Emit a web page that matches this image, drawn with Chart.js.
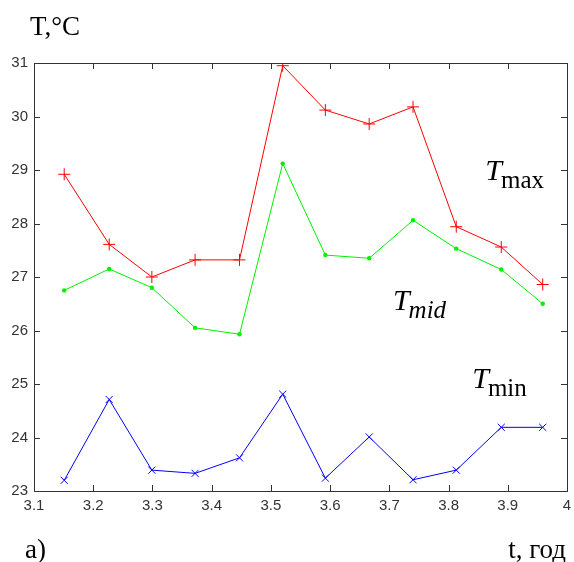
<!DOCTYPE html>
<html>
<head>
<meta charset="utf-8">
<script src="https://cdn.jsdelivr.net/npm/chart.js@4/dist/chart.umd.min.js"></script>
<style>
  html, body { margin: 0; padding: 0; background: #fff; }
  #wrap { width: 574px; height: 562px; position: relative; }
</style>
</head>
<body>
<div id="wrap"><canvas id="chart" width="574" height="562"></canvas></div>
<script>
// time points, years
const tYears = [3.151, 3.227, 3.299, 3.372, 3.447, 3.520, 3.592, 3.666, 3.740, 3.813, 3.889, 3.959];
// temperatures, °C
const tMax = [28.92, 27.61, 27.00, 27.32, 27.32, 30.95, 30.12, 29.86, 30.18, 27.94, 27.56, 26.86];
const tMid = [26.75, 27.15, 26.80, 26.05, 25.93, 29.12, 27.41, 27.35, 28.06, 27.53, 27.14, 26.50];
const tMin = [23.20, 24.71, 23.39, 23.33, 23.62, 24.81, 23.24, 24.01, 23.21, 23.39, 24.19, 24.19];

// curve labels: [main letter, subscript, italic subscript?, x, y baseline]
const curveLabels = [
  ['T', 'max', false, 3.862, 28.81],
  ['T', 'mid', true, 3.706, 26.38],
  ['T', 'min', false, 3.840, 24.92]
];

const pts = (ys) => tYears.map((x, i) => ({ x: x, y: ys[i] }));

const serif = '"Liberation Serif", "Times New Roman", serif';
const sans = '"Liberation Sans", Arial, sans-serif';

// frame, inward ticks on all four sides and the text labels
const framePlugin = {
  id: 'frame',
  afterDraw(chart) {
    const ctx = chart.ctx;
    const a = chart.chartArea;
    const xs = chart.scales.x, ys = chart.scales.y;
    const tl = 6;
    ctx.save();
    ctx.strokeStyle = '#333';
    ctx.lineWidth = 1;
    ctx.strokeRect(Math.round(a.left) + 0.5, Math.round(a.top) + 0.5,
      Math.round(a.right - a.left), Math.round(a.bottom - a.top));
    ctx.beginPath();
    xs.ticks.forEach(t => {
      const px = Math.round(xs.getPixelForValue(t.value)) + 0.5;
      ctx.moveTo(px, a.bottom); ctx.lineTo(px, a.bottom - tl);
      ctx.moveTo(px, a.top); ctx.lineTo(px, a.top + tl);
    });
    ys.ticks.forEach(t => {
      const py = Math.round(ys.getPixelForValue(t.value)) + 0.5;
      ctx.moveTo(a.left, py); ctx.lineTo(a.left + tl, py);
      ctx.moveTo(a.right, py); ctx.lineTo(a.right - tl, py);
    });
    ctx.stroke();

    ctx.fillStyle = '#000';
    ctx.textBaseline = 'alphabetic';
    ctx.textAlign = 'left';
    curveLabels.forEach(([main, sub, subItalic, vx, vy]) => {
      const px = xs.getPixelForValue(vx);
      const py = ys.getPixelForValue(vy);
      ctx.font = 'italic 30px ' + serif;
      ctx.fillText(main, px, py);
      const w = ctx.measureText(main).width;
      ctx.font = (subItalic ? 'italic ' : '') + '25px ' + serif;
      ctx.fillText(sub, px + w - 1, py + 8);
    });

    ctx.font = '27px ' + serif;
    ctx.fillText('T,°C', 30, 35);
    ctx.fillText('a)', 25, 558);
    ctx.textAlign = 'right';
    ctx.fillText('t, год', 566, 558);
    ctx.restore();
  }
};

new Chart(document.getElementById('chart'), {
  type: 'line',
  data: {
    datasets: [
      {
        label: 'Tmax', data: pts(tMax),
        borderColor: '#ff0000', backgroundColor: '#ff0000', borderWidth: 1,
        pointStyle: 'cross', pointRadius: 6, pointBorderWidth: 1
      },
      {
        label: 'Tmid', data: pts(tMid),
        borderColor: '#00f000', backgroundColor: '#00f000', borderWidth: 1,
        pointStyle: 'circle', pointRadius: 2.2, pointBorderWidth: 0
      },
      {
        label: 'Tmin', data: pts(tMin),
        borderColor: '#0000ff', backgroundColor: '#0000ff', borderWidth: 1,
        pointStyle: 'crossRot', pointRadius: 5, pointBorderWidth: 1
      }
    ]
  },
  options: {
    responsive: false,
    animation: false,
    maintainAspectRatio: false,
    layout: { padding: { left: 0, top: 63, right: 3, bottom: 0 } },
    elements: { line: { tension: 0 } },
    plugins: { legend: { display: false }, tooltip: { enabled: false } },
    scales: {
      x: {
        type: 'linear', min: 3.1, max: 4,
        grid: { display: false, drawTicks: false },
        border: { display: false },
        // the last label may run past the edge, keep the plot box full width
        afterFit: (s) => { s.height = 71; s.paddingRight = 0; s.paddingLeft = 0; },
        ticks: {
          stepSize: 0.1, autoSkip: false, maxRotation: 0, padding: 6,
          color: '#333', font: { family: sans, size: 15 },
          callback: (v) => String(+v.toFixed(1))
        }
      },
      y: {
        min: 23, max: 31,
        grid: { display: false, drawTicks: false },
        border: { display: false },
        afterFit: (s) => { s.width = 34; },
        ticks: {
          stepSize: 1, padding: 6,
          color: '#333', font: { family: sans, size: 15 }
        }
      }
    }
  },
  plugins: [framePlugin]
});
</script>
</body>
</html>
